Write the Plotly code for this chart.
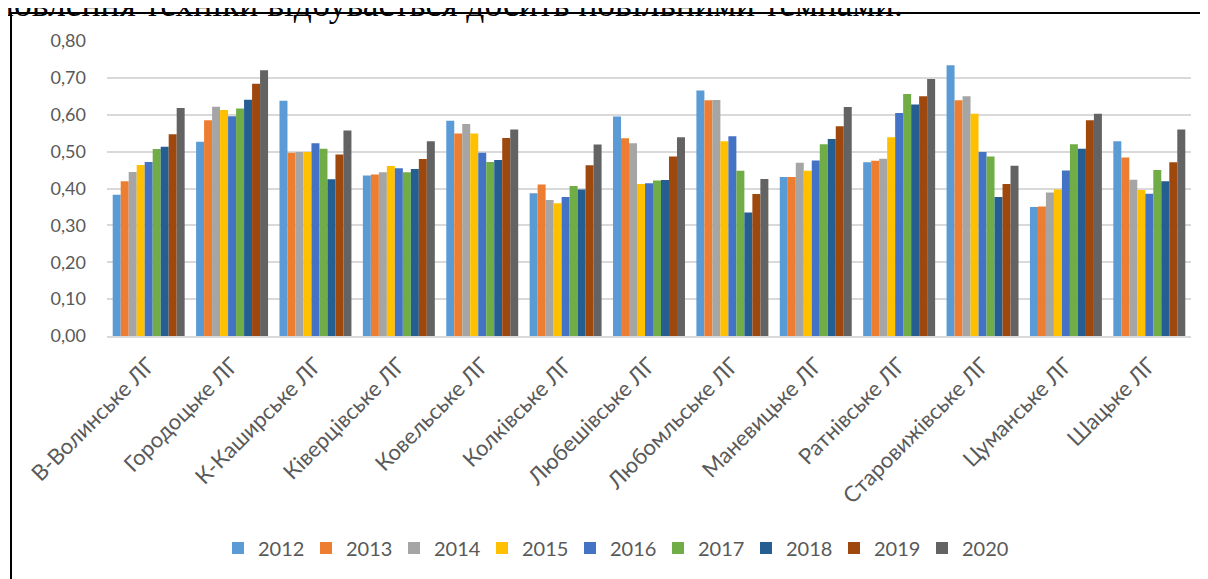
import plotly.graph_objects as go

categories = ["В-Волинське ЛГ", "Городоцьке ЛГ", "К-Каширське ЛГ", "Ківерцівське ЛГ",
              "Ковельське ЛГ", "Колківське ЛГ", "Любешівське ЛГ", "Любомльське ЛГ",
              "Маневицьке ЛГ", "Ратнівське ЛГ", "Старовижівське ЛГ", "Цуманське ЛГ", "Шацьке ЛГ"]

years = ["2012", "2013", "2014", "2015", "2016", "2017", "2018", "2019", "2020"]

v2012 = [0.383, 0.527, 0.638, 0.435, 0.584, 0.387, 0.595, 0.666, 0.431, 0.471, 0.734, 0.350, 0.528]
v2013 = [0.420, 0.585, 0.497, 0.438, 0.549, 0.411, 0.536, 0.639, 0.431, 0.475, 0.639, 0.351, 0.484]
v2014 = [0.445, 0.622, 0.499, 0.444, 0.575, 0.369, 0.523, 0.640, 0.470, 0.481, 0.650, 0.389, 0.424]
v2015 = [0.464, 0.613, 0.499, 0.461, 0.549, 0.360, 0.412, 0.528, 0.448, 0.539, 0.603, 0.397, 0.396]
v2016 = [0.472, 0.596, 0.523, 0.455, 0.497, 0.377, 0.414, 0.542, 0.476, 0.605, 0.499, 0.449, 0.386]
v2017 = [0.507, 0.617, 0.508, 0.444, 0.472, 0.407, 0.422, 0.448, 0.520, 0.656, 0.487, 0.520, 0.450]
v2018 = [0.513, 0.641, 0.425, 0.453, 0.477, 0.397, 0.423, 0.335, 0.534, 0.628, 0.377, 0.508, 0.420]
v2019 = [0.547, 0.684, 0.492, 0.480, 0.537, 0.463, 0.487, 0.385, 0.569, 0.650, 0.412, 0.585, 0.471]
v2020 = [0.618, 0.721, 0.557, 0.528, 0.560, 0.519, 0.539, 0.426, 0.621, 0.697, 0.462, 0.603, 0.560]

series_values = [v2012, v2013, v2014, v2015, v2016, v2017, v2018, v2019, v2020]
colors = ["#5B9BD5", "#ED7D31", "#A5A5A5", "#FFC000", "#4472C4",
          "#70AD47", "#255E91", "#9E480E", "#636363"]

y_tickvals = [0.0, 0.1, 0.2, 0.3, 0.4, 0.5, 0.6, 0.7, 0.8]
y_ticktext = ["0,00", "0,10", "0,20", "0,30", "0,40", "0,50", "0,60", "0,70", "0,80"]

heading = "новлення техніки відбувається досить повільними темпами."

# page has an 8px body margin, so figure coordinates are window coordinates minus 8
W, H = 1200, 571
L, R, T, B = 99, 1183, 33, 328
pw, ph = R - L, B - T


def px_x(X):
    return (X - L) / pw


def px_y(Y):
    return (B - Y) / ph


fig = go.Figure()
for name, vals, col in zip(years, series_values, colors):
    fig.add_trace(go.Bar(x=categories, y=vals, name=name,
                         marker=dict(color=col, line=dict(width=0))))

fig.update_layout(
    width=W, height=H,
    margin=dict(l=L, r=W - R, t=T, b=H - B, pad=0),
    paper_bgcolor="white", plot_bgcolor="white",
    barmode="group", bargap=0.137, bargroupgap=0,
    font=dict(family="Lato", color="#595959", size=20),
    showlegend=True,
    legend=dict(orientation="h", x=px_x(606), xanchor="center",
                y=px_y(540), yanchor="middle",
                entrywidth=43, entrywidthmode="pixels",
                font=dict(family="Lato", size=20, color="#595959"),
                traceorder="normal"),
    xaxis=dict(tickangle=-45, showgrid=False, showline=True, linecolor="#D9D9D9",
               linewidth=1.5, ticks="", ticklabelstandoff=6,
               tickfont=dict(family="Lato", size=22, color="#595959")),
    yaxis=dict(range=[0, 0.8], tickvals=y_tickvals, ticktext=y_ticktext,
               showgrid=True, gridcolor="#D9D9D9", gridwidth=1.5,
               zeroline=False, showline=False, ticks="", ticklabelstandoff=20,
               tickfont=dict(family="Lato", size=18, color="#595959")),
)

# border of the chart object
fig.add_shape(type="rect", xref="paper", yref="paper",
              x0=px_x(3), x1=px_x(1300), y0=px_y(700), y1=px_y(5),
              line=dict(color="black", width=2), fillcolor="rgba(0,0,0,0)", layer="above")

fig.add_annotation(text=heading, xref="paper", yref="paper",
                   x=px_x(897), xanchor="right", y=px_y(17.6), yanchor="bottom",
                   showarrow=False,
                   font=dict(family="Liberation Serif", size=35.5, color="black"))

fig.write_html("out.html")
